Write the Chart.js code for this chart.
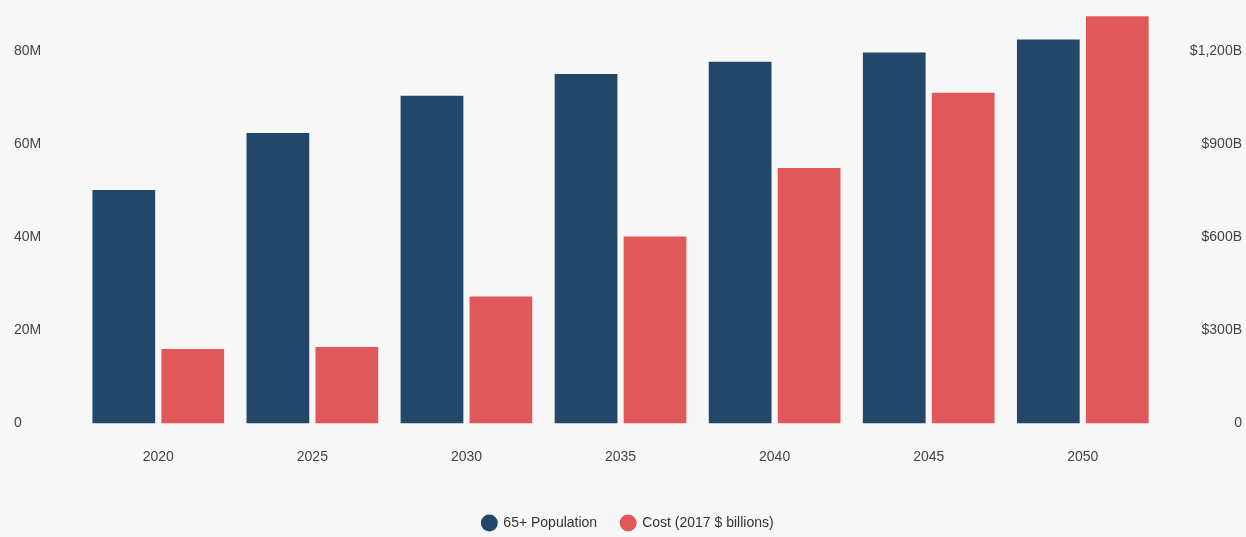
<!DOCTYPE html>
<html>
<head>
<meta charset="utf-8">
<script src="https://cdn.jsdelivr.net/npm/chart.js@4"></script>
<style>
  html, body { margin: 0; padding: 0; background: #f7f7f7; }
  #wrap { width: 1246px; height: 537px; }
</style>
</head>
<body>
<div id="wrap"><canvas id="myChart"></canvas></div>
<script>
const years = ['2020', '2025', '2030', '2035', '2040', '2045', '2050'];
const population = [50.2, 62.5, 70.5, 75.2, 77.8, 79.8, 82.6]; // millions
const cost = [240, 246, 409, 603, 824, 1067, 1314]; // $ billions
const popTicks = [0, 20, 40, 60, 80];
const costTicks = [0, 300, 600, 900, 1200];

const ctx = document.getElementById('myChart');

new Chart(ctx, {
  type: 'bar',
  data: {
    labels: years,
    datasets: [{
      label: '65+ Population',
      data: population,
      backgroundColor: '#224769',
      clip: false,
      yAxisID: 'y'
    }, {
      label: 'Cost (2017 $ billions)',
      data: cost,
      backgroundColor: '#e0585a',
      clip: false,
      yAxisID: 'y1'
    }]
  },
  options: {
    responsive: true,
    maintainAspectRatio: false,
    animation: false,
    categoryPercentage: 0.895,
    barPercentage: 0.91,
    layout: {
      autoPadding: false,
      padding: { left: 14, right: 4, top: 4, bottom: -3 }
    },
    plugins: {
      legend: {
        position: 'bottom',
        labels: {
          usePointStyle: true,
          pointStyle: 'circle',
          boxHeight: 12,
          color: '#333',
          font: { family: 'Liberation Sans, Arial, sans-serif', size: 14 },
          padding: 24
        }
      },
      tooltip: { enabled: false }
    },
    scales: {
      x: {
        grid: { display: false, drawTicks: false },
        border: { display: false },
        ticks: {
          color: '#444',
          padding: 26,
          font: { family: 'Liberation Sans, Arial, sans-serif', size: 14 }
        }
      },
      y: {
        position: 'left',
        min: 0,
        max: 85,
        afterBuildTicks: axis => { axis.ticks = popTicks.map(v => ({ value: v })); },
        grid: { display: false, drawTicks: false },
        border: { display: false },
        ticks: {
          crossAlign: 'far',
          color: '#444',
          padding: 20,
          font: { family: 'Liberation Sans, Arial, sans-serif', size: 14 },
          callback: v => v === 0 ? '0' : v + 'M'
        }
      },
      y1: {
        position: 'right',
        min: 0,
        max: 1275,
        afterBuildTicks: axis => { axis.ticks = costTicks.map(v => ({ value: v })); },
        grid: { display: false, drawTicks: false },
        border: { display: false },
        ticks: {
          crossAlign: 'far',
          color: '#444',
          padding: 15,
          font: { family: 'Liberation Sans, Arial, sans-serif', size: 14 },
          callback: v => v === 0 ? '0' : '$' + v.toLocaleString('en-US') + 'B'
        }
      }
    }
  }
});
</script>
</body>
</html>
